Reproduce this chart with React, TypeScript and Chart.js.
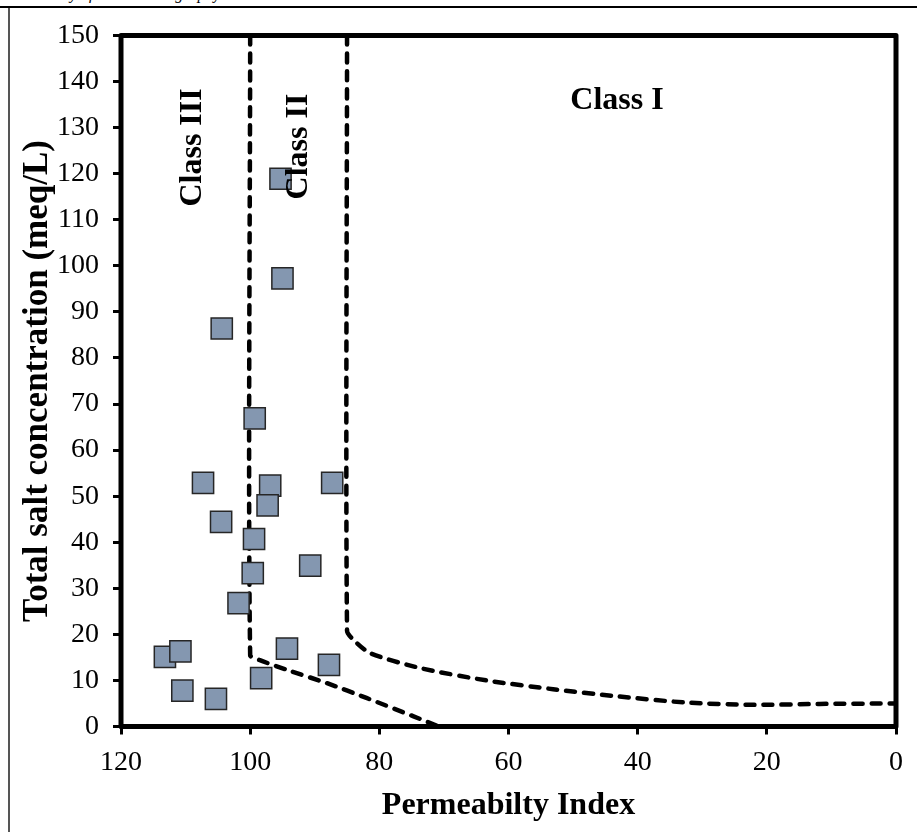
import React, { useEffect, useRef } from "react";
import { Chart, registerables } from "chart.js";

Chart.register(...registerables);

// Sample points: Permeability Index (x) and Total salt concentration in meq/L (y)
const permeabilityIndex = [
  95.3, 95.0, 104.4, 99.3, 107.3, 96.9, 87.3, 97.3, 104.5, 99.4,
  99.6, 90.7, 101.8, 113.2, 110.8, 94.3, 87.8, 98.3, 110.5, 105.3,
];
const totalSalt = [
  118.9, 97.3, 86.4, 66.9, 52.9, 52.3, 52.9, 48.0, 44.4, 40.7,
  33.3, 34.9, 26.8, 15.1, 16.3, 16.9, 13.4, 10.5, 7.8, 6.0,
];

// Boundary between Class III and Class II
const boundaryIIIPI = [100, 100, 98.5, 94.3, 88.1, 82.0, 74.7, 70.8];
const boundaryIIITSC = [150, 15.5, 14.4, 12.3, 9.4, 6.2, 2.2, 0];

// Boundary between Class II and Class I
const boundaryIIPI = [85, 85, 84.0, 81.4, 73.7, 63.4, 53.1, 42.8, 32.5, 22.1, 11.8, 0];
const boundaryIITSC = [150, 20.8, 18.8, 15.9, 12.7, 10.0, 8.1, 6.5, 5.2, 4.7, 4.9, 5.0];

const classNames = ["Class III", "Class II", "Class I"];
const classLabelPI = [108.9, 92.5, 43.2];
const classLabelTSC = [125.7, 125.9, 135.9];
const classLabelVertical = [true, true, false];

const xTitle = "Permeabilty Index";
const yTitle = "Total salt concentration (meq/L)";

const SERIF = "'Liberation Serif', 'Times New Roman', Times, serif";

const framePlugin = {
  id: "frameBox",
  beforeDatasetsDraw(chart: any) {
    const { ctx, chartArea } = chart;
    ctx.save();
    ctx.strokeStyle = "#000";
    ctx.lineWidth = 5;
    ctx.lineJoin = "round";
    ctx.strokeRect(
      chartArea.left,
      chartArea.top,
      chartArea.right - chartArea.left,
      chartArea.bottom - chartArea.top
    );
    ctx.restore();
  },
};

const classLabelPlugin = {
  id: "classLabels",
  afterDatasetsDraw(chart: any) {
    const { ctx, scales } = chart;
    ctx.save();
    ctx.fillStyle = "#000";
    ctx.font = `bold 32px ${SERIF}`;
    ctx.textAlign = "center";
    ctx.textBaseline = "middle";
    classNames.forEach((name, i) => {
      const px = scales.x.getPixelForValue(classLabelPI[i]);
      const py = scales.y.getPixelForValue(classLabelTSC[i]);
      ctx.save();
      ctx.translate(px, py);
      if (classLabelVertical[i]) ctx.rotate(-Math.PI / 2);
      ctx.fillText(name, 0, 0);
      ctx.restore();
    });
    ctx.restore();
  },
};

export default function App() {
  const canvasRef = useRef<HTMLCanvasElement>(null);

  useEffect(() => {
    const canvas = canvasRef.current;
    if (!canvas) return;
    const dashed = {
      showLine: true,
      borderColor: "#000",
      borderWidth: 4.5,
      borderDash: [9, 9],
      borderCapStyle: "round" as const,
      pointRadius: 0,
      pointHoverRadius: 0,
      tension: 0.25,
      fill: false,
      order: 1,
    };
    const chart = new Chart(canvas, {
      type: "scatter",
      data: {
        datasets: [
          {
            label: "Samples",
            data: permeabilityIndex.map((x, i) => ({ x, y: totalSalt[i] })),
            pointStyle: "rect",
            pointRadius: 15,
            pointHoverRadius: 15,
            backgroundColor: "#8497b0",
            borderColor: "#262626",
            borderWidth: 1.5,
            order: 0,
          },
          {
            label: "III/II",
            data: boundaryIIIPI.map((x, i) => ({ x, y: boundaryIIITSC[i] })),
            ...dashed,
          },
          {
            label: "II/I",
            data: boundaryIIPI.map((x, i) => ({ x, y: boundaryIITSC[i] })),
            ...dashed,
          },
        ] as any,
      },
      options: {
        responsive: false,
        animation: false,
        devicePixelRatio: 1,
        layout: { padding: { left: 0, right: 21, top: 35.5, bottom: 0 } },
        plugins: {
          legend: { display: false },
          tooltip: { enabled: false },
        },
        scales: {
          x: {
            type: "linear",
            reverse: true,
            min: 0,
            max: 120,
            afterFit: (s: any) => {
              s.height = 105.5;
            },
            ticks: {
              stepSize: 20,
              color: "#000",
              padding: 11,
              font: { family: SERIF, size: 28 },
            },
            grid: {
              drawOnChartArea: false,
              drawTicks: true,
              tickLength: 8,
              color: "#000",
              lineWidth: 3,
            },
            border: { display: false },
            title: {
              display: true,
              text: xTitle,
              color: "#000",
              font: { family: SERIF, size: 32, weight: "bold" },
              padding: { top: 0, bottom: 7 },
            },
          },
          y: {
            type: "linear",
            min: 0,
            max: 150,
            afterFit: (s: any) => {
              s.width = 121;
            },
            ticks: {
              stepSize: 10,
              color: "#000",
              padding: 14,
              font: { family: SERIF, size: 28 },
            },
            grid: {
              drawOnChartArea: false,
              drawTicks: true,
              tickLength: 8,
              color: "#000",
              lineWidth: 3,
            },
            border: { display: false },
            title: {
              display: true,
              text: yTitle,
              color: "#000",
              font: { family: SERIF, size: 35, weight: "bold" },
              padding: { top: 17, bottom: 0 },
            },
          },
        },
      } as any,
      plugins: [framePlugin, classLabelPlugin],
    });
    return () => chart.destroy();
  }, []);

  return (
    <div
      style={{
        position: "fixed",
        left: 0,
        top: 0,
        width: 917,
        height: 832,
        overflow: "hidden",
        background: "#fff",
      }}
    >
      <span
        style={{
          position: "absolute",
          left: 29,
          top: -14,
          fontFamily: SERIF,
          fontStyle: "italic",
          fontSize: 16,
          lineHeight: "16px",
          whiteSpace: "nowrap",
          color: "#000",
        }}
      >
        History of Islamic Geography
      </span>
      <div
        style={{
          position: "absolute",
          left: 0,
          top: 6,
          width: 917,
          height: 2,
          background: "#000",
        }}
      />
      <div
        style={{
          position: "absolute",
          left: 8,
          top: 8,
          width: 2,
          height: 824,
          background: "#555",
        }}
      />
      <canvas
        ref={canvasRef}
        width={917}
        height={832}
        style={{ position: "absolute", left: 0, top: 0, width: 917, height: 832 }}
      />
    </div>
  );
}
